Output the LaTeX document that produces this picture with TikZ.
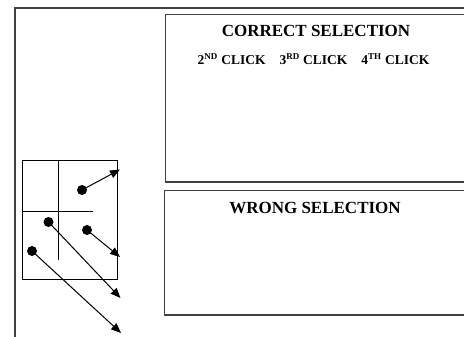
\documentclass[tikz,border=0pt]{standalone}
\usepackage{fontspec}
\setmainfont{Liberation Serif}
\usetikzlibrary{arrows.meta}
\tikzset{
  frame/.style={draw=black!75, line width=1.1pt},
  gridline/.style={draw=black, line width=0.9pt},
  dot/.style={circle, fill=black, inner sep=0pt, minimum size=10pt},
  pointer/.style={draw=black, line width=1pt, -{Triangle[length=10pt,width=8pt]}},
  title/.style={font=\fontsize{17}{20}\selectfont\bfseries, inner sep=0pt},
  clicks/.style={font=\fontsize{13.5}{16}\selectfont\bfseries, inner sep=0pt}
}
\newcommand{\supx}[1]{\textsuperscript{\fontsize{9}{10}\selectfont #1}}
\begin{document}
\begin{tikzpicture}[x=1pt,y=-1pt]
\useasboundingbox (0,0) rectangle (464,337);
\clip (0,0) rectangle (464,337);
% outer frame
\draw[frame] (15,345) -- (15,8) -- (470,8);
% boxes
\draw[frame] (470,14.5) -- (165.5,14.5) -- (165.5,182) -- (470,182);
\draw[frame] (470,190.5) -- (164.5,190.5) -- (164.5,315) -- (470,315);
\node[title] (correct) at (316,31) {CORRECT SELECTION};
\node[clicks] (clk) at (313.5,59) {2\supx{ND} CLICK\hspace{14pt}3\supx{RD} CLICK\hspace{14pt}4\supx{TH} CLICK};
\node[title] (wrong) at (315,208) {WRONG SELECTION};
% grid
\draw[gridline] (22,160) rectangle (117.3,279);
\draw[gridline] (58,160) -- (58,260);
\draw[gridline] (22,211) -- (93,211);
% dots
\node[dot] (d1) at (82,190) {};
\node[dot] (d2) at (48.5,222) {};
\node[dot] (d3) at (87,230) {};
\node[dot] (d4) at (32,251) {};
\coordinate (e1) at (120,169.5);
\coordinate (e2) at (120.5,298);
\coordinate (e3) at (120,257);
\coordinate (e4) at (121,333);
\draw[pointer] (d1.center) -- (e1);
\draw[pointer] (d2.center) -- (e2);
\draw[pointer] (d3.center) -- (e3);
\draw[pointer] (d4.center) -- (e4);
\end{tikzpicture}
\end{document}
